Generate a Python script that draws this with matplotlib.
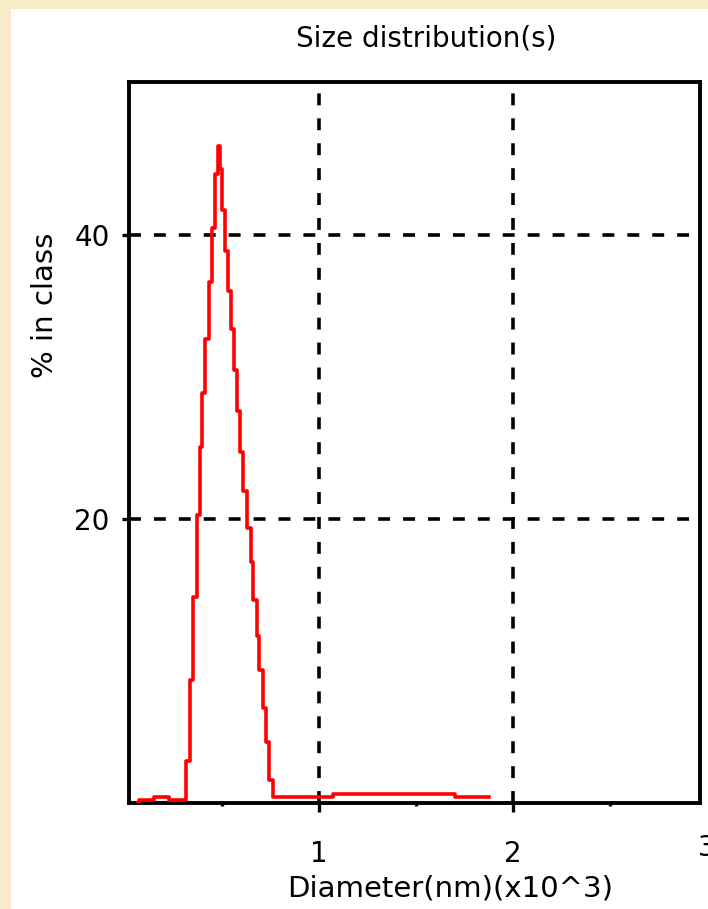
import matplotlib
matplotlib.use("Agg")
import matplotlib.pyplot as plt
from matplotlib.patches import Rectangle

# size distribution, bin edges in nm x10^3 and % in class after each edge
edges = [0.067, 0.072, 0.149, 0.227, 0.314, 0.335, 0.351, 0.371, 0.387, 0.397,
         0.412, 0.433, 0.448, 0.464, 0.479, 0.490, 0.500, 0.515, 0.531, 0.546,
         0.562, 0.577, 0.593, 0.608, 0.629, 0.649, 0.660, 0.680, 0.691, 0.711,
         0.727, 0.742, 0.763, 1.072, 1.701, 1.876]
pct = [0.0, 0.2, 0.42, 0.21, 2.96, 8.7, 14.5, 20.3, 25.1, 28.9,
       32.7, 36.7, 40.5, 44.3, 46.3, 44.7, 41.8, 38.9, 36.1, 33.4,
       30.5, 27.6, 24.7, 22.0, 19.4, 17.0, 14.3, 11.8, 9.4, 6.7,
       4.3, 1.6, 0.42, 0.63, 0.42, 0.42]

xticks = [1, 2]
xlabels = ["1", "2"]
yticks = [20, 40]
ylabels = ["20", "40"]

W, H = 708, 909
fig = plt.figure(figsize=(W / 100, H / 100), dpi=100)
fig.patch.set_facecolor("#f9ebca")
fig.add_artist(Rectangle((11 / W, 0), 1, 1 - 9 / H, transform=fig.transFigure,
                         facecolor="white", edgecolor="none", zorder=0))

ax = fig.add_axes([129 / W, 1 - 803 / H, 571 / W, 721 / H])
ax.set_facecolor("white")

ax.step(edges, pct, where="post", color="#ff0000", lw=2.6, zorder=3)

ax.set_xlim(0.02, 2.965)
ax.set_ylim(0, 50.8)

ax.set_xticks(xticks)
ax.set_xticklabels(xlabels)
ax.set_xticks([0.5, 1.5, 2.5], minor=True)
ax.set_yticks(yticks)
ax.set_yticklabels(ylabels)

ax.tick_params(axis="x", which="major", direction="out", length=6.5, width=2.4,
               pad=20, labelsize=20)
ax.tick_params(axis="x", which="minor", direction="out", length=2.5, width=2.4)
ax.tick_params(axis="y", which="major", direction="out", length=5, width=2.4,
               pad=9, labelsize=20)

# the "3" label sits at the right edge, beyond the axis end (cut off as in the original)
ax.text(3.0, -0.0625, "3", transform=ax.get_xaxis_transform(), ha="center",
        va="center", fontsize=20, clip_on=False)

ax.grid(True, which="major", color="black", lw=2.6, linestyle=(0, (3.3, 3.6)))
ax.set_axisbelow(True)

for s in ax.spines.values():
    s.set_linewidth(2.8)
    s.set_color("black")

fig.text(426 / W, 1 - 39 / H, "Size distribution(s)", ha="center", va="center",
         fontsize=20)
fig.text(450 / W, 1 - 888 / H, "Diameter(nm)(x10^3)", ha="center", va="center",
         fontsize=21)
fig.text(45 / W, 1 - 305 / H, "% in class", ha="center", va="center",
         rotation=90, fontsize=21)

fig.savefig("out.png", dpi=100, facecolor=fig.get_facecolor())
